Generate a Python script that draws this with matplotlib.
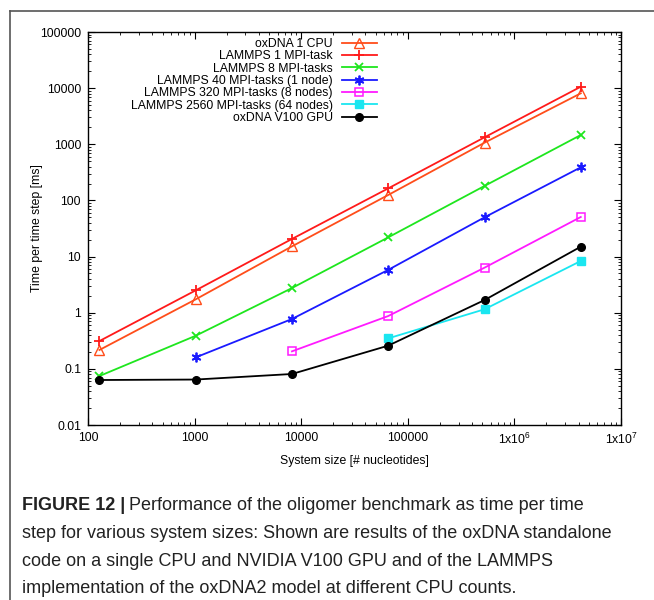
import numpy as np
import matplotlib
matplotlib.use("Agg")
import matplotlib.pyplot as plt
from matplotlib.lines import Line2D
from matplotlib.ticker import FixedLocator, FixedFormatter, LogLocator, NullFormatter

plt.rcParams['font.family'] = ['Liberation Sans', 'DejaVu Sans']
plt.rcParams['mathtext.fontset'] = 'custom'
plt.rcParams['mathtext.rm'] = 'Liberation Sans'
plt.rcParams['mathtext.it'] = 'Liberation Sans'

# system sizes (nucleotides)
sizes = [128, 1024, 8192, 65536, 524288, 4194304]

# time per step [ms]
oxdna_cpu = [0.217, 1.73, 15.2, 125, 1067, 8090]
lammps_1 = [0.313, 2.5, 20.6, 164, 1330, 10600]
lammps_8 = [0.0745, 0.389, 2.75, 22, 181, 1463]
lammps_40 = [0.160, 0.773, 5.8, 50, 389]          # from 1024
lammps_320 = [0.205, 0.873, 6.34, 50.7]           # from 8192
lammps_2560 = [0.349, 1.15, 8.34]                 # from 65536
oxdna_gpu = [0.0633, 0.0645, 0.081, 0.259, 1.68, 15.0]

xtick_vals = [100, 1000, 10000, 100000, 1e6, 1e7]
xtick_labels = ['100', '1000', '10000', '100000', r'1x10$^{6}$', r'1x10$^{7}$']
ytick_vals = [0.01, 0.1, 1, 10, 100, 1000, 10000, 100000]
ytick_labels = ['0.01', '0.1', '1', '10', '100', '1000', '10000', '100000']

caption = [
    "Performance of the oligomer benchmark as time per time",
    "step for various system sizes: Shown are results of the oxDNA standalone",
    "code on a single CPU and NVIDIA V100 GPU and of the LAMMPS",
    "implementation of the oxDNA2 model at different CPU counts.",
]

W, H = 654, 600
fig = plt.figure(figsize=(W / 100, H / 100), dpi=100)
ax = fig.add_axes([88 / W, 1 - 425 / H, 533 / W, 393 / H])

lw = 1.3
ms = 6
series = [
    ("oxDNA 1 CPU", sizes, oxdna_cpu, '#ff4d1a', dict(marker='^', mfc='none', ms=ms + 1)),
    ("LAMMPS 1 MPI-task", sizes, lammps_1, '#ff1a1a', dict(marker='+', ms=ms + 1, mew=1.3)),
    ("LAMMPS 8 MPI-tasks", sizes, lammps_8, '#1ee61e', dict(marker='x', ms=ms, mew=1.3)),
    ("LAMMPS 40 MPI-tasks (1 node)", sizes[1:], lammps_40, '#1a1aff', dict(marker=(6, 2, 0), ms=ms + 1, mew=1.3)),
    ("LAMMPS 320 MPI-tasks (8 nodes)", sizes[2:], lammps_320, '#ff1aff', dict(marker='s', mfc='none', ms=ms, mew=1.1)),
    ("LAMMPS 2560 MPI-tasks (64 nodes)", sizes[3:], lammps_2560, '#1ae6f0', dict(marker='s', ms=ms - 0.5)),
    ("oxDNA V100 GPU", sizes, oxdna_gpu, '#000000', dict(marker='o', ms=ms - 0.5)),
]
for label, x, y, c, kw in series:
    ax.plot(x, y, color=c, lw=lw, label=label, mec=c, **kw)

ax.set_xscale('log')
ax.set_yscale('log')
ax.set_xlim(100, 1e7)
ax.set_ylim(0.01, 100000)

ax.xaxis.set_major_locator(FixedLocator(xtick_vals))
ax.xaxis.set_major_formatter(FixedFormatter(xtick_labels))
ax.yaxis.set_major_locator(FixedLocator(ytick_vals))
ax.yaxis.set_major_formatter(FixedFormatter(ytick_labels))
for axis in (ax.xaxis, ax.yaxis):
    axis.set_minor_locator(LogLocator(base=10, subs=np.arange(2, 10), numticks=20))
    axis.set_minor_formatter(NullFormatter())

ax.tick_params(which='both', direction='in', top=True, right=True, labelsize=8.8, colors='black')
ax.tick_params(which='major', length=5, width=0.8, pad=5)
ax.tick_params(which='minor', length=2.5, width=0.6)
for s in ax.spines.values():
    s.set_linewidth(1.0)

ax.set_xlabel("System size [# nucleotides]", fontsize=8.8, labelpad=6)
ax.set_ylabel("Time per time step [ms]", fontsize=8.8, va='center')
ax.yaxis.set_label_coords((37 - 88) / 533, 0.5)

leg = ax.legend(loc='upper right', bbox_to_anchor=((377 - 88) / 533, (425 - 38) / 393),
                frameon=False, markerfirst=False, fontsize=8.8, borderpad=0,
                handlelength=2.9, handletextpad=0.7, labelspacing=0.025, borderaxespad=0)

# outer box (cropped on right and bottom)
fig.add_artist(Line2D([10 / W, 10 / W], [0, 1 - 11 / H], color='#555555', lw=1.2))
fig.add_artist(Line2D([10 / W, 1], [1 - 11 / H, 1 - 11 / H], color='#555555', lw=1.2))

# caption
cap_size = 13
y0 = 506
step = 27.5
bold = fig.text(22 / W, 1 - y0 / H, "FIGURE 12 |", fontsize=cap_size, fontweight='bold',
                va='center', ha='left', color='#222222')
fig.canvas.draw()
bb = bold.get_window_extent()
fig.text(bb.x1 / W + 4 / W, 1 - y0 / H, caption[0], fontsize=cap_size, va='center', ha='left', color='#222222')
for i, line in enumerate(caption[1:], start=1):
    fig.text(22 / W, 1 - (y0 + step * i) / H, line, fontsize=cap_size, va='center', ha='left', color='#222222')

fig.savefig("out.png", dpi=100)
